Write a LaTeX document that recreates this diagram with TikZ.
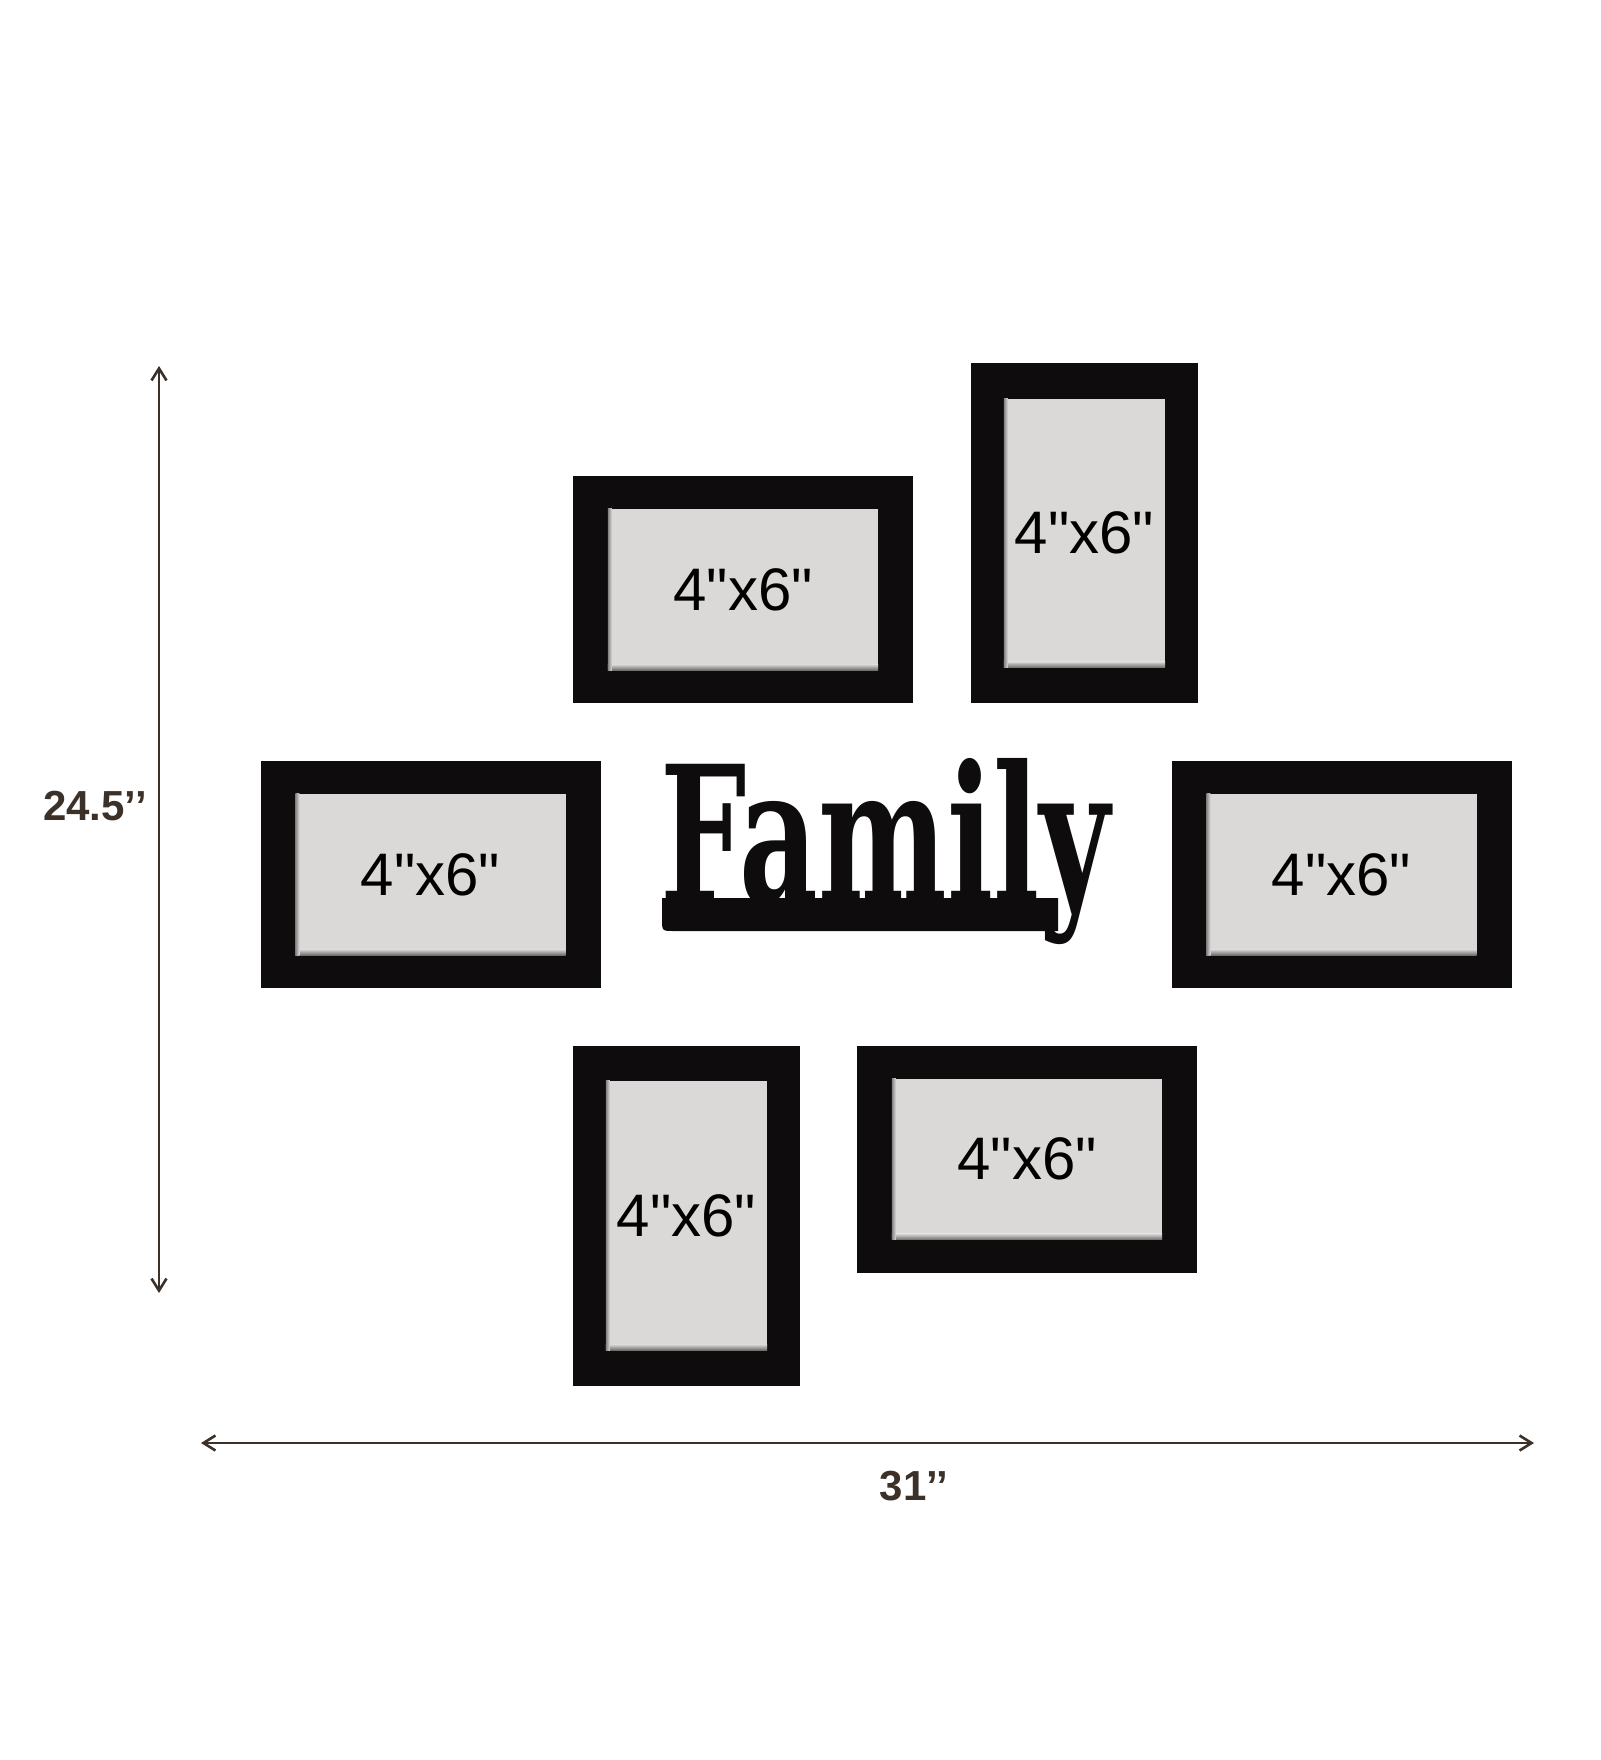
\documentclass[tikz,border=0pt]{standalone}
\usepackage{fontspec}
\setmainfont{Liberation Sans}
\newfontfamily\framefont{Liberation Sans}
\newfontfamily\famfont{DejaVu Serif}
\usetikzlibrary{arrows.meta}
\definecolor{framecol}{HTML}{0E0C0C}
\definecolor{innercol}{HTML}{DBD9D7}
\definecolor{dimcol}{HTML}{3B3129}
\tikzset{
  outerland/.style={fill=framecol, inner sep=0, minimum width=340pt, minimum height=227pt},
  outerport/.style={fill=framecol, inner sep=0, minimum width=227pt, minimum height=340pt},
  innerland/.style={fill=innercol, inner sep=0, minimum width=270pt, minimum height=161pt},
  innerport/.style={fill=innercol, inner sep=0, minimum width=161pt, minimum height=269pt},
  bandshade/.style={top color=innercol, bottom color=innercol!50!black, draw=none},
  sideshade/.style={left color=innercol!60!black, right color=innercol, draw=none},
  frametext/.style={font=\framefont\fontsize{60}{60}\selectfont, text=black, inner sep=0},
  dimline/.style={draw=dimcol, line width=2pt, {Straight Barb[length=12pt,width=15pt,line width=2.6pt]}-{Straight Barb[length=12pt,width=15pt,line width=2.6pt]}},
  dimlabel/.style={text=dimcol, font=\fontsize{42}{42}\selectfont\bfseries, inner sep=0}
}
\newcommand{\photoframe}[4]{%
  \node[outer#4] (#1) at (#2,#3) {};
  \node[inner#4] (#1in) at (#1) {};
  \shade[bandshade] ([yshift=6pt]#1in.south west) rectangle (#1in.south east);
  \shade[sideshade] (#1in.south west) rectangle ([xshift=4pt]#1in.north west);
  \node[frametext] (#1txt) at (#1in) {4"x6"};
}
\begin{document}
\begin{tikzpicture}[x=1pt, y=-1pt]
\useasboundingbox[fill=white] (0,0) rectangle (1600,1760);

\photoframe{fa}{743}{589.5}{land}
\photoframe{fb}{1084.5}{533}{port}
\photoframe{fc}{430.5}{874.5}{land}
\photoframe{fd}{1341.5}{874.5}{land}
\photoframe{fe}{686.5}{1215.5}{port}
\photoframe{ff}{1027}{1159}{land}

% Family sign
\fill[framecol] (1058,898) -- (662,898) -- (662,919) .. controls (662,931) .. (674,931) -- (1058,931) -- cycle;
\node[inner sep=0, anchor=base west, text=framecol] (family) at (660,902)
  {\resizebox{450pt}{144pt}{\famfont\bfseries Family}};

% dimension arrows
\coordinate (vtop) at (159,366);
\coordinate (vbot) at (159,1293);
\coordinate (hleft) at (201,1443);
\coordinate (hright) at (1534,1443);
\draw[dimline] (vtop) -- (vbot);
\draw[dimline] (hleft) -- (hright);
\node[dimlabel] (hlabel) at (95,806) {24.5’’};
\node[dimlabel] (wlabel) at (914,1486) {31’’};
\end{tikzpicture}
\end{document}
